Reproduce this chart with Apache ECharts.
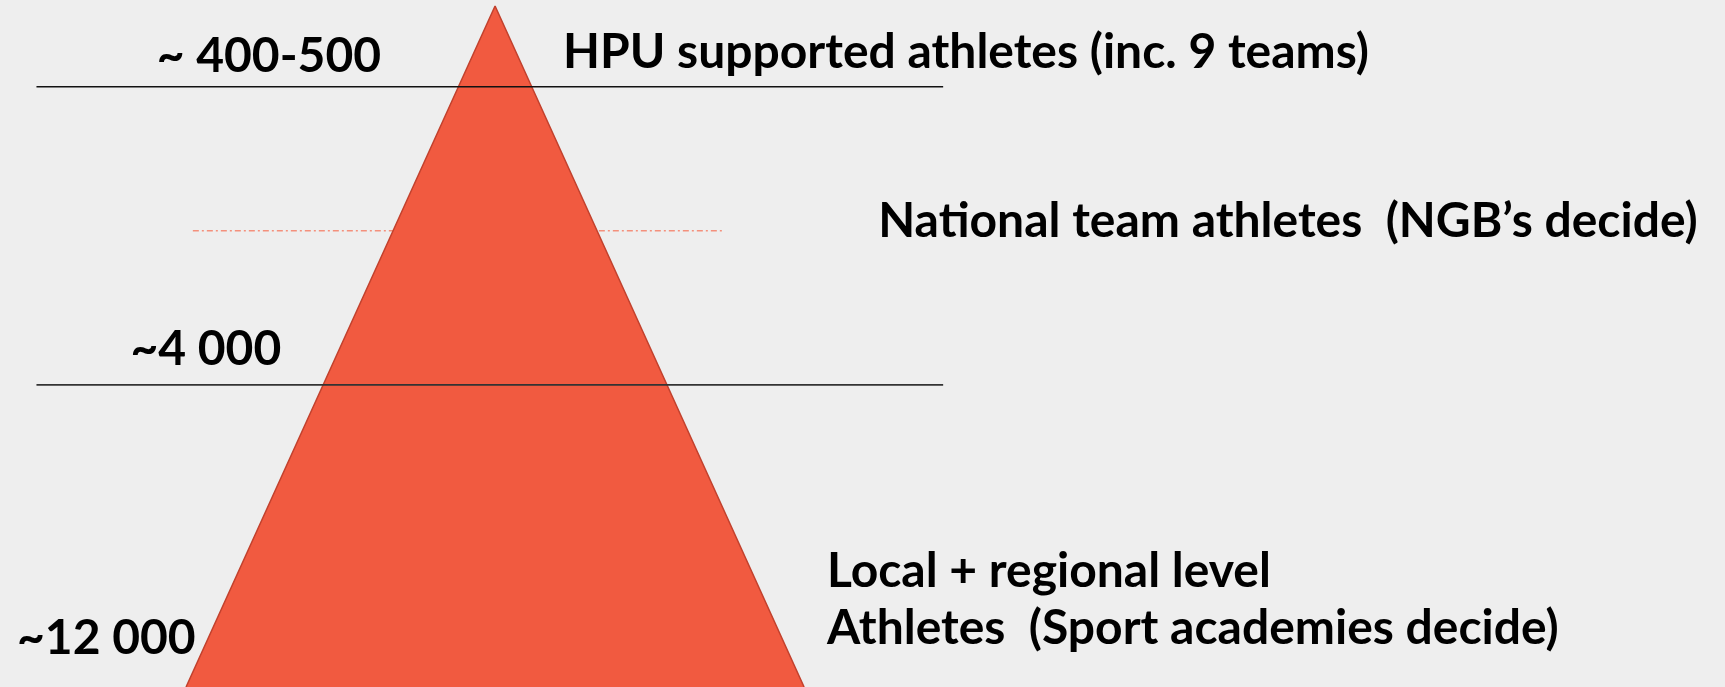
<!DOCTYPE html>
<html>
<head>
<meta charset="utf-8">
<script src="https://cdn.jsdelivr.net/npm/echarts@6/dist/echarts.min.js"></script>
<style>
  html, body { margin: 0; padding: 0; background: #eeeeee; }
  #chart { width: 1725px; height: 687px; }
</style>
</head>
<body>
<div id="chart"></div>
<script>
// ---- data (abstract pyramid units: base spans x -50..50, y 0 = base, 100 = apex) ----
const pyramidX = [-50, 0, 50];
const pyramidY = [0, 100, 0];

// tier boundary levels (solid lines) and the national-team level (dash-dot)
const boundaryLevels = [88.15, 44.35];
const boundaryXRange = [-74.2, 72.5];
const dashedLevel = 67.0;
const dashedXRange = [-48.9, 36.9];

// athlete counts per tier (left side)
const countLabels = ['~ 400-500', '~4 000', '~12 000'];
const countLabelX = [-36.6, -46.8, -62.9];
const countLabelY = [92.6, 49.6, 7.1];

// tier descriptions (right side)
const tierLabels = ['HPU supported athletes (inc. 9 teams)', 'National team athletes  (NGB\u2019s decide)', 'Local + regional level', 'Athletes  (Sport academies decide)'];
const tierLabelX = [11.0, 62.0, 53.7, 53.7];
const tierLabelY = [93.2, 68.3, 16.9, 8.55];

// ---- build series ----
const chart = echarts.init(document.getElementById('chart'), null, { renderer: 'canvas' });

const pyramidData = pyramidX.map((x, i) => [x, pyramidY[i]]);

const boundarySeries = boundaryLevels.map((lv, i) => ({
  type: 'line',
  name: 'boundary' + i,
  data: [[boundaryXRange[0], lv], [boundaryXRange[1], lv]],
  symbol: 'none',
  silent: true,
  z: 5,
  lineStyle: { color: i === 0 ? '#111111' : '#333333', width: i === 0 ? 1.6 : 1.8 }
}));

const labelFont = { fontFamily: 'Lato', fontWeight: 'bold', fontSize: 48, color: '#000000', textBorderWidth: 0, opacity: 1 };

const option = {
  backgroundColor: '#eeeeee',
  animation: false,
  grid: { left: 0, right: 0, top: 0, bottom: 0 },
  xAxis: { type: 'value', min: -80.1, max: 199.0, show: false },
  yAxis: { type: 'value', min: 0, max: 100.88, show: false },
  series: [
    {
      type: 'line',
      name: 'dashed',
      data: [[dashedXRange[0], dashedLevel], [dashedXRange[1], dashedLevel]],
      symbol: 'none',
      silent: true,
      z: 1,
      lineStyle: { color: '#f4907c', width: 1.3, type: [6, 3, 2, 3] }
    },
    {
      type: 'line',
      name: 'pyramid',
      data: pyramidData,
      symbol: 'none',
      silent: true,
      z: 2,
      lineStyle: { color: '#c2412d', width: 1.5 },
      areaStyle: { color: '#f15a40', opacity: 1, origin: 'start' }
    },
    ...boundarySeries,
    {
      type: 'scatter',
      name: 'counts',
      symbolSize: 0,
      silent: true,
      z: 6,
      itemStyle: { opacity: 1 },
      data: countLabels.map((t, i) => ({ value: [countLabelX[i], countLabelY[i]], name: t })),
      label: Object.assign({ show: true, position: 'inside', formatter: p => p.name, align: 'center', verticalAlign: 'middle' }, labelFont)
    },
    {
      type: 'scatter',
      name: 'tiers',
      symbolSize: 0,
      silent: true,
      z: 6,
      itemStyle: { opacity: 1 },
      data: tierLabels.map((t, i) => ({ value: [tierLabelX[i], tierLabelY[i]], name: t })),
      label: Object.assign({ show: true, position: 'inside', formatter: p => p.name, align: 'left', verticalAlign: 'middle' }, labelFont)
    }
  ]
};
chart.setOption(option);
</script>
</body>
</html>
